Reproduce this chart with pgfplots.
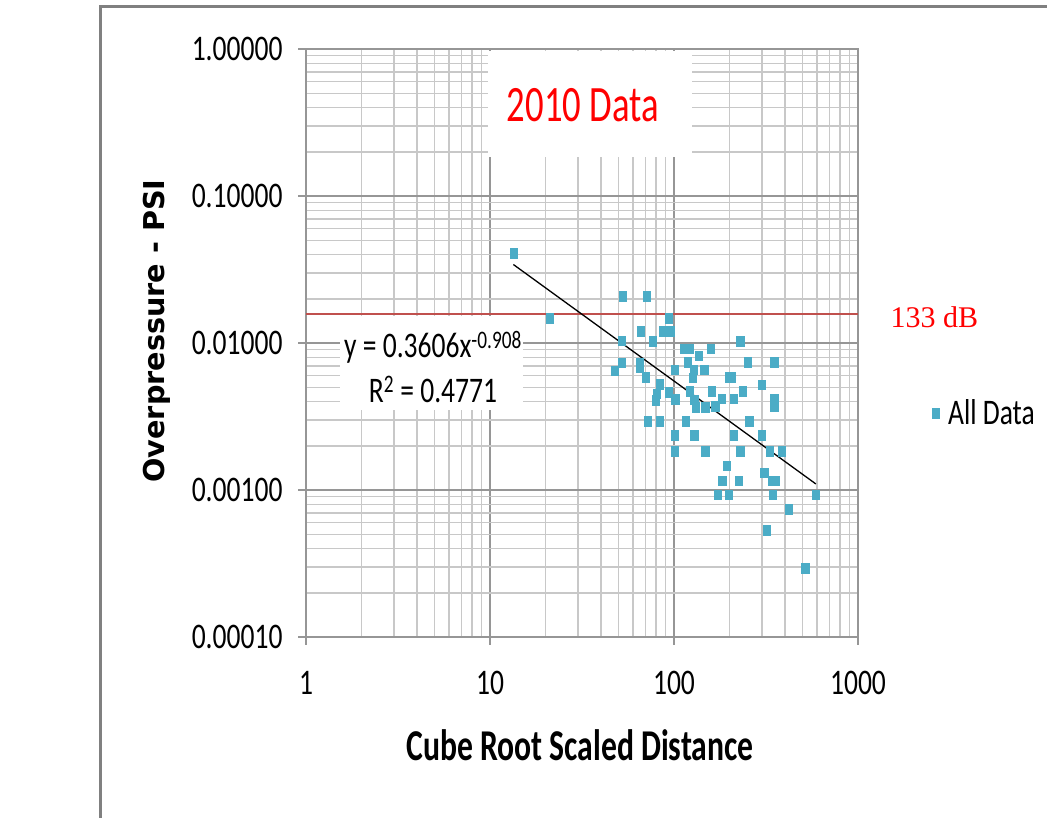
\documentclass[border=0pt]{standalone}
\usepackage{pgfplots}
\pgfplotsset{compat=1.18}
\usepackage{pgfplotstable}
\usepackage{fontspec}
\newfontfamily\calfont{Carlito}[FakeStretch=0.72]
\newfontfamily\calt{Carlito}[FakeStretch=0.765]
\newfontfamily\dvs{DejaVu Sans}
\newfontfamily\lser{Liberation Serif}
\definecolor{ptc}{HTML}{4BACC6}
\definecolor{rl}{HTML}{C0504D}
\definecolor{mg}{RGB}{150,150,150}
\definecolor{ng}{RGB}{200,200,200}
\definecolor{fr}{RGB}{128,128,128}

\pgfplotstableread{
x y
13.4 0.0407
21.1 0.0148
52.5 0.0209
71.1 0.0209
93.5 0.0148
65.7 0.0120
76.6 0.0103
87.2 0.0120
95.5 0.0120
51.8 0.0104
51.8 0.00733
47.6 0.0065
64.9 0.00733
64.9 0.00685
70.5 0.00586
83.2 0.00523
80.9 0.00452
79.2 0.00407
93.5 0.00463
100.8 0.00657
101.6 0.00415
72.3 0.00294
83.2 0.00294
229 0.0103
112.9 0.00913
121.6 0.00913
158.8 0.00913
136.7 0.00822
118.6 0.00741
127.8 0.00657
146.1 0.00657
251 0.00737
350 0.00737
126.9 0.00580
198 0.00586
204.7 0.00586
300 0.0052
121.6 0.00469
160.8 0.00469
237 0.00469
128.9 0.00411
130.6 0.00367
147.9 0.00367
167.6 0.0037
182.2 0.00418
210.7 0.00418
350 0.00418
350 0.0037
115.2 0.00294
256.4 0.00294
100.8 0.00236
128.9 0.00236
210.7 0.00236
300 0.00236
100.8 0.00183
147.9 0.00183
229 0.00183
330 0.00183
385.5 0.00183
194 0.00146
183 0.00116
224.3 0.00116
309 0.00131
340 0.00116
354.6 0.00116
173.4 0.00093
198 0.00093
344.6 0.00093
587 0.00093
418.7 0.00074
319.7 0.000533
515.9 0.000293
}\datatab

\begin{document}
\begin{tikzpicture}[x=1pt,y=1pt]
\useasboundingbox (0,0) rectangle (1047,-818);
\fill[white] (0,0) rectangle (1047,-818);
\draw[fr, line width=3pt] (100,-830) -- (100,-7) -- (1060,-7);
\begin{axis}[
  at={(306pt,-637pt)}, anchor=south west,
  scale only axis, width=552pt, height=588pt,
  xmode=log, ymode=log,
  xmin=1, xmax=1000, ymin=1e-4, ymax=1,
  xtick={1,10,100,1000}, xticklabels={1,10,100,1000},
  ytick={1e-4,1e-3,1e-2,1e-1,1},
  yticklabels={0.00010,0.00100,0.01000,0.10000,1.00000},
  grid=both,
  major grid style={mg, line width=1.5pt},
  minor grid style={ng, line width=1.5pt},
  axis line style={mg, line width=1.5pt},
  tick style={mg, line width=1.5pt},
  tick align=outside, tick pos=left,
  major tick length=8pt, minor tick length=0pt,
  ticklabel style={font=\calt\fontsize{36}{36}\selectfont, text=black},
  xticklabel style={yshift=-23pt},
  yticklabel style={xshift=-12pt},
  legend style={at={(axis description cs:1.128,0.381)}, anchor=west,
    draw=none, fill=none, font=\calt\fontsize{36}{36}\selectfont, column sep=7pt},
  legend cell align=left,
  legend image code/.code={\draw[mark repeat=2,mark phase=2,#1] plot coordinates {(0pt,0pt)(6pt,0pt)(12pt,0pt)};},
]
\addplot[rl, line width=2pt, forget plot] coordinates {(1,0.0157) (1000,0.0157)};
\addplot[only marks, mark=square*, mark size=4.8pt, color=ptc, mark options={xscale=0.75}] table {\datatab};
\addlegendentry{All Data}
\addplot[black, line width=1.3pt, forget plot] coordinates {(13.4,0.0342) (590,0.0011)};
\end{axis}
\fill[white] (488,-51) rectangle (692,-157);
\node[text=red, font=\calfont\fontsize{51}{51}\selectfont] at (583,-105) {2010 Data};
\fill[white] (340,-316) rectangle (523,-410);
\node[font=\calt\fontsize{36}{36}\selectfont, anchor=base] at (433,-358) {y = 0.3606x\textsuperscript{-0.908}};
\node[font=\calt\fontsize{36}{36}\selectfont, anchor=base] at (433,-402) {R\textsuperscript{2} = 0.4771};
\node[rotate=90, font=\dvs\bfseries\fontsize{28.7}{28.7}\selectfont] at (157,-331) {Overpressure - PSI};
\node[font=\calfont\bfseries\fontsize{44}{44}\selectfont, anchor=base] at (580,-760) {Cube Root Scaled Distance};
\node[text=red, font=\lser\fontsize{30}{30}\selectfont, anchor=base west] at (887,-327) {133 dB};
\end{tikzpicture}
\end{document}
